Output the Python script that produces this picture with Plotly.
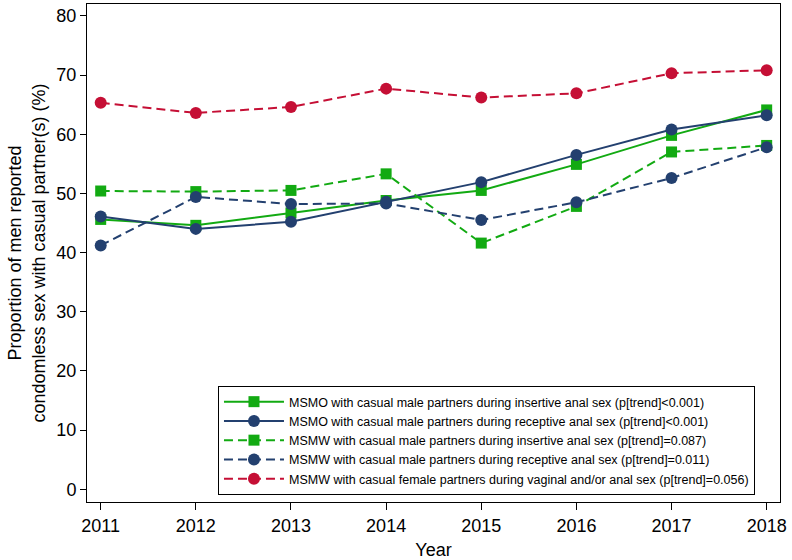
import plotly.graph_objects as go

years = [2011, 2012, 2013, 2014, 2015, 2016, 2017, 2018]

msmo_insertive = [45.6, 44.6, 46.7, 48.8, 50.5, 54.9, 59.8, 64.1]
msmo_receptive = [46.1, 44.0, 45.2, 48.6, 51.9, 56.5, 60.8, 63.2]
msmw_insertive = [50.4, 50.3, 50.5, 53.3, 41.6, 47.8, 57.0, 58.1]
msmw_receptive = [41.2, 49.4, 48.2, 48.3, 45.5, 48.5, 52.6, 57.8]
msmw_female = [65.3, 63.6, 64.6, 67.7, 66.2, 66.9, 70.3, 70.8]

names = [
    "MSMO with casual male partners during insertive anal sex (p[trend]<0.001)",
    "MSMO with casual male partners during receptive anal sex (p[trend]<0.001)",
    "MSMW with casual male partners during insertive anal sex (p[trend]=0.087)",
    "MSMW with casual male partners during receptive anal sex (p[trend]=0.011)",
    "MSMW with casual female partners during vaginal and/or anal sex (p[trend]=0.056)",
]
series = [msmo_insertive, msmo_receptive, msmw_insertive, msmw_receptive, msmw_female]

GREEN = "#12AA12"
NAVY = "#23406F"
RED = "#C50F35"
colors = [GREEN, NAVY, GREEN, NAVY, RED]
symbols = ["square", "circle", "square", "circle", "circle"]
dashes = ["solid", "solid", "9px,5px", "9px,5px", "9px,5px"]
sizes = [11, 12, 11, 12, 12]

fig = go.Figure()
for i, (nm, vals) in enumerate(zip(names, series)):
    fig.add_trace(go.Scatter(
        x=years, y=vals, name=nm, mode="lines+markers",
        line=dict(color=colors[i], width=2, dash=dashes[i]),
        marker=dict(symbol=symbols[i], size=sizes[i], color=colors[i]),
        legendgroup=f"g{i}",
    ))

FONT = "Liberation Sans, Arial, sans-serif"
fig.update_layout(
    width=792, height=560,
    margin=dict(l=87, r=12, t=4, b=58),
    paper_bgcolor="white", plot_bgcolor="white",
    font=dict(family=FONT, color="black", size=18),
    showlegend=True,
    legend=dict(
        x=0.189, y=0.014, xanchor="left", yanchor="bottom",
        bordercolor="black", borderwidth=1, bgcolor="white",
        font=dict(family=FONT, size=12.5, color="black"),
        tracegroupgap=0, itemwidth=60,
    ),
    xaxis=dict(
        range=[2010.856, 2018.14], tickmode="array", tickvals=years,
        ticktext=[str(y) for y in years],
        showgrid=False, zeroline=False,
        showline=True, linecolor="black", linewidth=1, mirror=True,
        ticks="outside", ticklen=7, tickcolor="black",
        tickfont=dict(size=18),
        title=dict(text="Year", font=dict(size=18), standoff=8),
    ),
    yaxis=dict(
        range=[-2.15, 82.0], tickmode="array", tickvals=[0, 10, 20, 30, 40, 50, 60, 70, 80],
        showgrid=False, zeroline=False,
        showline=True, linecolor="black", linewidth=1, mirror=True,
        ticks="outside", ticklen=6, tickcolor="black",
        tickfont=dict(size=18),
        title=dict(text="Proportion of men reported<br>condomless sex with casual partner(s) (%)",
                   font=dict(size=18), standoff=6),
    ),
)

fig.write_html("out.html", config={"displayModeBar": False},
               post_script="document.body.style.margin='0';document.body.style.overflow='hidden';")
